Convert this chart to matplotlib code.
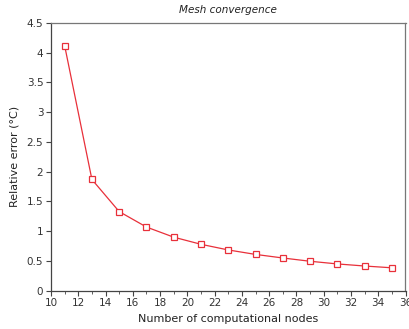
import matplotlib
matplotlib.use("Agg")
import matplotlib.pyplot as plt
from matplotlib.ticker import MultipleLocator

nodes = [11, 13, 15, 17, 19, 21, 23, 25, 27, 29, 31, 33, 35]
rel_error = [4.12, 1.87, 1.33, 1.07, 0.90, 0.78, 0.685, 0.61, 0.55, 0.495, 0.45, 0.415, 0.385]
xticks = list(range(10, 37, 2))
yticks = [0, 0.5, 1, 1.5, 2, 2.5, 3, 3.5, 4, 4.5]
ytick_labels = ["0", "0.5", "1", "1.5", "2", "2.5", "3", "3.5", "4", "4.5"]

fig = plt.figure(figsize=(4.10, 3.29), dpi=100)
ax = fig.add_axes([51/410, 1 - 290.7/329, (405.5-51)/410, (290.7-23)/329])

ax.plot(nodes, rel_error, color="#e8303a", lw=0.9, marker="s", ms=4.2,
        mfc="white", mec="#e8303a", mew=0.9)

ax.set_xlim(10, 36)
ax.set_ylim(0, 4.5)
ax.set_xticks(xticks)
ax.set_yticks(yticks)
ax.set_yticklabels(ytick_labels)
ax.xaxis.set_minor_locator(MultipleLocator(1))
ax.tick_params(which="major", direction="out", length=3.5, width=0.8, color="#444444",
               labelsize=7.5, labelcolor="#333333", pad=2)
ax.tick_params(which="minor", direction="out", length=2, width=0.6, color="#444444")
ax.tick_params(top=False, right=False, which="both")
for s in ax.spines.values():
    s.set_color("#777777")
    s.set_linewidth(0.9)
ax.spines["left"].set_color("#444444")
ax.spines["bottom"].set_color("#444444")

ax.set_xlabel("Number of computational nodes", fontsize=8, color="#222222", labelpad=4)
ax.set_ylabel("Relative error (°C)", fontsize=8, color="#222222", labelpad=5)
ax.set_title("Mesh convergence", fontsize=7.5, style="italic", color="#222222", pad=7)

fig.savefig("out.png", dpi=100)
